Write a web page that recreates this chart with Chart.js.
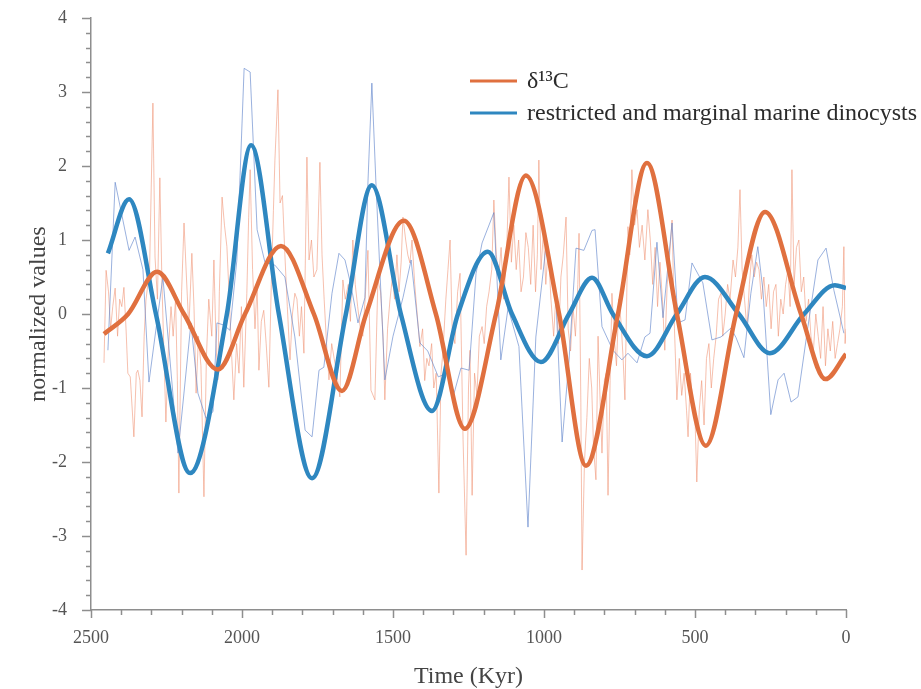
<!DOCTYPE html>
<html lang="en">

<head>
    <meta charset="UTF-8">
    <title>Normalized values through time</title>
    <script src="https://cdn.jsdelivr.net/npm/chart.js"></script>
    <style>
        body { margin: 0; background: #fff; }
        #wrap { width: 921px; height: 689px; }
    </style>
</head>

<body>
    <div id="wrap"><canvas id="chart" width="921" height="689"></canvas></div>

    <script>
        // raw d13C samples (age in Kyr, normalized value)
        const carbonAge = [2457, 2450, 2442, 2435, 2428, 2420, 2412, 2405, 2398, 2391, 2384, 2378, 2370, 2358, 2350, 2345, 2338, 2331, 2324, 2318,
            2306, 2295, 2288, 2280, 2272, 2265, 2258, 2252, 2244, 2235, 2228, 2220, 2214, 2209, 2200, 2192, 2184, 2176, 2166, 2159,
            2152, 2144, 2136, 2126, 2118, 2110, 2100, 2093, 2086, 2080, 2075, 2066, 2058, 2050, 2042, 2035, 2027, 2018, 2010, 2002,
            1994, 1984, 1978, 1973, 1965, 1957, 1950, 1944, 1936, 1928, 1920, 1911, 1903, 1896, 1891, 1881, 1874, 1866, 1858, 1850,
            1841, 1833, 1825, 1818, 1810, 1803, 1795, 1785, 1778, 1770, 1762, 1752, 1742, 1735, 1728, 1720, 1712, 1703, 1695, 1686,
            1676, 1666, 1658, 1648, 1641, 1633, 1625, 1617, 1608, 1600, 1591, 1583, 1573, 1560, 1550, 1541, 1533, 1527, 1518, 1510,
            1502, 1495, 1487, 1480, 1473, 1467, 1458, 1451, 1444, 1437, 1428, 1420, 1411, 1402, 1395, 1388, 1381, 1372, 1365, 1357,
            1348, 1341, 1335, 1325, 1318, 1311, 1304, 1295, 1286, 1278, 1268, 1258, 1250, 1245, 1238, 1230, 1222, 1214, 1205, 1198,
            1190, 1182, 1173, 1166, 1158, 1150, 1142, 1134, 1125, 1116, 1108, 1100, 1092, 1084, 1076, 1068, 1060, 1052, 1044, 1036,
            1028, 1022, 1017, 1010, 1002, 994, 986, 977, 968, 960, 952, 944, 936, 927, 920, 912, 904, 896, 888, 884,
            878, 874, 866, 858, 850, 842, 836, 828, 821, 814, 808, 800, 794, 788, 781, 775, 768, 760, 752, 745,
            738, 732, 722, 716, 709, 700, 692, 684, 675, 666, 656, 648, 640, 632, 624, 616, 608, 600, 592, 584,
            576, 568, 560, 552, 544, 536, 528, 523, 515, 508, 500, 494, 486, 478, 470, 462, 454, 446, 438, 430,
            422, 414, 408, 400, 392, 384, 374, 366, 358, 351, 344, 336, 328, 320, 312, 304, 296, 288, 280, 272,
            264, 256, 248, 240, 232, 224, 216, 208, 200, 192, 185, 179, 172, 164, 156, 148, 140, 132, 124, 116,
            108, 100, 92, 84, 76, 68, 60, 52, 44, 36, 28, 20, 12, 7, 3, 0];
        const carbonRaw = [-0.66, 0.59, 0.30, -0.20, 0.10, 0.35, -0.30, 0.20, 0.10, 0.36, -0.20, -0.80, -0.85, -1.66, -0.80, -0.76, -0.90, -1.39, -0.30, 0.19,
            0.60, 2.85, 0.77, 0.20, 1.84, 0.40, -0.60, -1.46, -0.50, 0.10, -0.30, 0.20, -0.90, -2.42, 0.30, 1.23, 0.50, -0.20, 0.82, 0.10,
            -1.07, -0.30, -0.70, -2.47, -0.60, 0.20, -0.30, 0.73, -0.40, -0.89, 0.30, 1.58, 1.20, 0.91, 0.20, -0.50, -1.16, -0.40, -0.80, 0.10,
            -0.99, 0.28, 1.30, 1.95, 0.60, -0.20, 0.40, -0.76, -0.10, 0.05, -0.40, -0.99, 0.40, 1.40, 2.08, 3.03, 1.50, 1.60, 0.80, 0.10,
            -0.62, 0.00, 0.28, 0.20, -0.30, 0.10, -0.53, 2.12, 0.73, 1.00, 0.50, 0.60, 2.05, 0.80, 0.20, -0.40, -0.89, -0.40, -0.60, -0.80,
            -1.12, 0.46, 0.20, 0.40, -0.10, 1.00, 0.40, 0.10, -0.20, -0.30, 0.30, 0.86, -1.03, -1.16, 0.46, 0.30, -0.30, -1.16, -0.20, 0.19,
            0.50, 0.20, 0.80, 0.30, 0.70, 1.31, 1.00, 0.80, 0.69, 1.00, 0.40, 0.00, -0.44, -0.20, -0.90, -0.60, -0.70, -0.40, -1.00, -0.80,
            -2.42, -0.80, -0.53, 0.20, 0.60, 1.00, -0.20, -0.40, 0.30, 0.55, -1.70, -3.26, -1.00, -0.49, -2.45, -0.80, -1.10, -0.30, -0.17, -0.40,
            0.10, 0.30, 0.60, 1.54, 0.80, 0.50, 0.90, 0.20, 0.70, 1.85, 0.70, 1.20, 0.60, 1.00, 0.30, 0.50, 1.10, 0.90, 0.40, 1.20,
            0.30, 0.80, 2.08, 0.60, 1.10, 0.40, 0.90, 0.20, -0.30, 0.30, -0.40, 0.50, 0.80, 1.31, -0.20, -0.50, 0.10, -0.30, 0.40, 1.09,
            -1.20, -3.46, -2.00, -1.40, -0.60, -1.00, -1.80, -2.24, -0.30, -1.20, -1.88, -0.90, -0.80, -2.45, -0.90, 0.28, -0.30, -0.70, 0.20, -0.10,
            -0.60, -1.16, 1.18, 0.80, 1.95, 1.20, 1.41, 0.90, 1.20, 0.73, 1.41, 1.00, 0.40, 0.90, 0.10, 0.70, 0.20, -0.49, 0.40, 0.80,
            1.27, -0.20, -1.16, -0.60, -1.10, -0.80, -1.30, -1.66, -0.80, -1.20, -1.40, -2.27, -1.30, -0.90, -1.50, -0.60, -0.40, -1.00, -0.60, -0.30,
            0.20, 0.28, -0.30, 0.00, 0.40, 0.20, 0.73, 0.50, 0.90, 1.68, 0.60, 0.20, -0.20, 0.40, 0.80, 0.50, 0.70, 0.60, 0.20, 0.50,
            0.10, 0.40, -0.20, 0.30, 0.40, -0.30, 0.20, 0.00, 0.40, 0.60, 0.10, 1.95, 0.40, 0.90, 1.00, 0.30, 0.50, -0.10, 0.20, -0.30,
            -0.50, 0.00, -0.30, -0.60, 0.10, -0.70, -0.20, -0.50, -0.10, -0.60, -0.40, -0.20, 0.10, 0.91, -0.40, -0.20];

        // raw restricted and marginal marine dinocyst samples
        const cystAge = [2444, 2420, 2374, 2354, 2328, 2308, 2262, 2212, 2169, 2146, 2119, 2096, 2083, 2060, 2040, 2017, 1993, 1973, 1950, 1924,
            1891, 1858, 1825, 1791, 1768, 1745, 1729, 1702, 1679, 1659, 1640, 1616, 1593, 1583, 1570, 1556, 1527, 1500, 1467, 1440,
            1411, 1385, 1350, 1321, 1301, 1275, 1248, 1225, 1205, 1166, 1143, 1119, 1083, 1053, 1027, 993, 960, 940, 917, 894,
            868, 841, 831, 808, 772, 742, 722, 692, 666, 649, 626, 606, 576, 556, 533, 510, 474, 444, 414, 381,
            364, 338, 315, 292, 275, 249, 225, 205, 182, 159, 126, 93, 66, 40, 7];
        const cystRaw = [-0.49, 1.78, 0.86, 1.04, 0.60, -0.92, 0.50, -1.88, -0.12, -1.07, -1.41, -1.32, -0.12, -0.15, -0.22, 0.73, 3.32, 3.27, 1.14, 0.70,
            0.66, 0.50, -0.31, -1.57, -1.66, -0.76, -0.72, 0.28, 0.82, 0.73, 0.40, -0.12, 0.22, 1.77, 3.12, 1.72, -0.89, -0.30, 0.22, 0.73,
            -0.39, -0.50, -0.85, -0.80, -1.12, -0.73, -0.76, 0.55, 0.96, 1.37, -0.62, 0.08, -0.44, -2.88, -0.31, 0.93, 0.15, -1.73, -0.62, 0.89,
            0.86, 1.13, 1.14, -0.17, -0.49, -0.62, -0.53, -0.66, -0.31, -0.26, 0.97, -0.05, 1.23, -0.12, -0.08, 0.69, 0.42, -0.35, -0.31, -0.19,
            -0.32, -0.59, 0.28, 0.91, 0.32, -1.36, -0.89, -0.80, -1.19, -1.12, -0.17, 0.73, 0.89, 0.32, -0.26];

        // filtered curves: extremes and zero crossings
        const carbonFitAge = [2457, 2377, 2281, 2192, 2080, 1990, 1871, 1762, 1669, 1589, 1464, 1358, 1262, 1159, 1060, 950, 861, 755, 659, 560, 464, 364, 268, 149, 68, 0];
        const carbonFit = [-0.27, 0.00, 0.57, 0.00, -0.75, 0.00, 0.92, 0.00, -1.04, 0.00, 1.26, 0.00, -1.55, 0.00, 1.87, 0.00, -2.05, 0.00, 2.04, 0.00, -1.78, 0.00, 1.38, 0.00, -0.88, -0.54];
        const cystFitAge = [2444, 2374, 2285, 2172, 2050, 1970, 1878, 1768, 1656, 1570, 1474, 1371, 1285, 1186, 1106, 1010, 917, 841, 772, 659, 560, 467, 355, 252, 139, 37, 0];
        const cystFit = [0.82, 1.55, 0.00, -2.15, 0.00, 2.28, 0.00, -2.22, 0.00, 1.74, 0.00, -1.31, 0.00, 0.84, 0.00, -0.65, 0.00, 0.49, 0.00, -0.57, 0.00, 0.50, 0.00, -0.53, 0.00, 0.39, 0.35];

        const xMin = 0, xMax = 2500, xStep = 500, xMinor = 100;
        const yMin = -4, yMax = 4, yStep = 1, yMinor = 0.2;

        const serif = '"Liberation Serif", "Times New Roman", serif';
        const axisGrey = '#8e8e8e';

        function pairs(xs, ys) {
            return xs.map((x, i) => ({ x: x, y: ys[i] }));
        }

        // minor and major tick marks drawn outside the plot
        const tickMarks = {
            id: 'tickMarks',
            afterDraw(chart) {
                const ctx = chart.ctx;
                const xs = chart.scales.x, ys = chart.scales.y;
                const area = chart.chartArea;
                ctx.save();
                ctx.strokeStyle = axisGrey;
                ctx.lineWidth = 1.5;
                ctx.beginPath();
                for (let v = xMin; v <= xMax; v += xMinor) {
                    const px = Math.round(xs.getPixelForValue(v)) + 0.5;
                    const len = v % xStep === 0 ? 8 : 5;
                    ctx.moveTo(px, area.bottom);
                    ctx.lineTo(px, area.bottom + len);
                }
                const n = Math.round((yMax - yMin) / yMinor);
                for (let i = 0; i <= n; i++) {
                    const v = yMin + i * yMinor;
                    const py = Math.round(ys.getPixelForValue(v)) + 0.5;
                    const len = i % 5 === 0 ? 9 : 5;
                    ctx.moveTo(area.left - len, py);
                    ctx.lineTo(area.left, py);
                }
                ctx.stroke();
                ctx.restore();
            }
        };

        // legend inside the plot, upper right
        const innerLegend = {
            id: 'innerLegend',
            afterDraw(chart) {
                const ctx = chart.ctx;
                let y = 81;
                ctx.save();
                ctx.font = '24px ' + serif;
                ctx.textBaseline = 'middle';
                chart.data.datasets.filter(d => d.inLegend).forEach(d => {
                    ctx.strokeStyle = d.borderColor;
                    ctx.lineWidth = 3;
                    ctx.beginPath();
                    ctx.moveTo(470, y);
                    ctx.lineTo(517, y);
                    ctx.stroke();
                    ctx.fillStyle = '#2b2b2b';
                    ctx.fillText(d.label, 527, y + 1);
                    y += 32;
                });
                ctx.restore();
            }
        };

        const ctx = document.getElementById('chart').getContext('2d');
        new Chart(ctx, {
            type: 'line',
            data: {
                datasets: [{
                    label: 'δ¹³C',
                    inLegend: true,
                    data: pairs(carbonFitAge, carbonFit),
                    borderColor: '#E0703F',
                    borderWidth: 4.5,
                    cubicInterpolationMode: 'monotone',
                    pointRadius: 0,
                    order: 0
                }, {
                    label: 'restricted and marginal marine dinocysts',
                    inLegend: true,
                    data: pairs(cystFitAge, cystFit),
                    borderColor: '#2E87C0',
                    borderWidth: 4.5,
                    cubicInterpolationMode: 'monotone',
                    pointRadius: 0,
                    order: 1
                }, {
                    label: 'δ¹³C raw',
                    data: pairs(carbonAge, carbonRaw),
                    borderColor: 'rgba(240, 150, 120, 0.6)',
                    borderWidth: 1,
                    pointRadius: 0,
                    order: 3
                }, {
                    label: 'dinocysts raw',
                    data: pairs(cystAge, cystRaw),
                    borderColor: 'rgba(100, 135, 205, 0.65)',
                    borderWidth: 1,
                    pointRadius: 0,
                    order: 2
                }]
            },
            options: {
                responsive: false,
                animation: false,
                layout: { padding: { top: 18, right: 75, left: 0, bottom: 0 } },
                plugins: {
                    legend: { display: false },
                    tooltip: { enabled: false }
                },
                scales: {
                    x: {
                        type: 'linear',
                        reverse: true,
                        min: xMin,
                        max: xMax,
                        afterFit: s => { s.height = 79; },
                        ticks: {
                            stepSize: xStep,
                            maxRotation: 0,
                            padding: 17,
                            color: '#555',
                            font: { family: serif, size: 18 },
                            callback: v => String(v)
                        },
                        grid: { drawOnChartArea: false, drawTicks: false },
                        border: { color: axisGrey, width: 1.5 },
                        title: {
                            display: true,
                            text: 'Time (Kyr)',
                            color: '#444',
                            font: { family: serif, size: 24, lineHeight: 1 },
                            padding: { top: 0, bottom: 0 }
                        }
                    },
                    y: {
                        min: yMin,
                        max: yMax,
                        afterFit: s => {
                            s.width = 91;
                            s.paddingTop = 0;
                            s.paddingBottom = 0;
                        },
                        ticks: {
                            stepSize: yStep,
                            padding: 24,
                            color: '#555',
                            font: { family: serif, size: 18 }
                        },
                        grid: { drawOnChartArea: false, drawTicks: false },
                        border: { color: axisGrey, width: 1.5 },
                        title: {
                            display: true,
                            text: 'normalized values',
                            color: '#444',
                            font: { family: serif, size: 24, lineHeight: 1.2 },
                            padding: { top: 24, bottom: 0 }
                        }
                    }
                }
            },
            plugins: [tickMarks, innerLegend]
        });
    </script>

</body>

</html>
